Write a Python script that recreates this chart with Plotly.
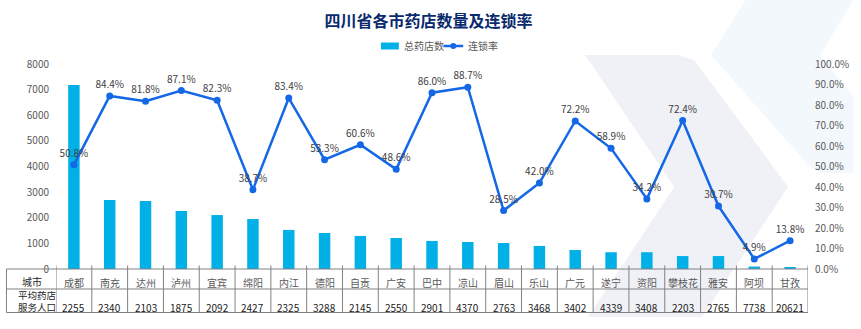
import plotly.graph_objects as go

# ---- data -------------------------------------------------------------
cities = ["成都", "南充", "达州", "泸州", "宜宾", "绵阳", "内江", "德阳", "自贡", "广安",
          "巴中", "凉山", "眉山", "乐山", "广元", "遂宁", "资阳", "攀枝花", "雅安", "阿坝", "甘孜"]
store_counts = [7180, 2695, 2655, 2265, 2105, 1950, 1525, 1405, 1290, 1210,
                1095, 1055, 1015, 900, 740, 655, 655, 505, 505, 95, 45]
chain_rate = [0.508, 0.844, 0.818, 0.871, 0.823, 0.387, 0.834, 0.533, 0.606, 0.486,
              0.860, 0.887, 0.285, 0.420, 0.722, 0.589, 0.342, 0.724, 0.307, 0.049, 0.138]
people_per_store = [2255, 2340, 2103, 1875, 2092, 2427, 2325, 3288, 2145, 2550,
                    2901, 4370, 2763, 3468, 3402, 4339, 3408, 2203, 2765, 7738, 20621]

# ---- layout geometry (pixels) ----------------------------------------
FIG_W, FIG_H = 861, 329
L, R, T, B = 56, 815, 64, 269
W, H = R - L, B - T

FONT = "Noto Sans CJK SC"
BAR_COLOR = "#00b0e6"
LINE_COLOR = "#1468e6"
GRID = "#808080"


def px(x):
    return (x - L) / W


def py(y):
    return (B - y) / H


def path(points):
    return "M " + " L ".join(f"{px(x):.5f},{py(y):.5f}" for x, y in points) + " Z"


fig = go.Figure()

fig.add_trace(go.Bar(
    x=cities, y=store_counts, name="总药店数",
    marker=dict(color=BAR_COLOR, line=dict(width=0)),
    yaxis="y", showlegend=False,
))

fig.add_trace(go.Scatter(
    x=cities, y=chain_rate, name="连锁率", yaxis="y2",
    mode="lines+markers+text",
    line=dict(color=LINE_COLOR, width=2.5),
    marker=dict(color=LINE_COLOR, size=7),
    texttemplate="%{y:.1%}", textposition="top center",
    textfont=dict(family=FONT, size=10, color="#404040"),
    cliponaxis=False, showlegend=False,
))

shapes = []

# decorative background chevrons
shapes.append(dict(type="path", xref="paper", yref="paper", layer="below",
                   path=path([(590, 55), (683, 55), (700, 60), (795, 187),
                              (708, 317), (593, 317), (680, 187)]),
                   fillcolor="#eff1f6", line=dict(width=0)))
shapes.append(dict(type="path", xref="paper", yref="paper", layer="below",
                   path=path([(752, 0), (861, 0), (861, 0), (827, 55), (861, 97),
                              (861, 173), (830, 173), (818, 168), (717, 55)]),
                   fillcolor="#f3f8fc", line=dict(width=0)))

# data table grid under the category axis
for yy in (269, 289, 312.5):
    shapes.append(dict(type="line", xref="paper", yref="paper",
                       x0=px(6), x1=1, y0=py(yy), y1=py(yy),
                       line=dict(color=GRID, width=1)))
shapes.append(dict(type="line", xref="paper", yref="paper",
                   x0=px(6), x1=px(6), y0=py(269), y1=py(312.5),
                   line=dict(color=GRID, width=1)))
for k in range(len(cities) + 1):
    shapes.append(dict(type="line", xref="x", yref="paper",
                       x0=k - 0.5, x1=k - 0.5, y0=py(265.5), y1=py(312.5),
                       line=dict(color=GRID, width=1)))

# legend swatches
shapes.append(dict(type="rect", xref="paper", yref="paper",
                   x0=px(384), x1=px(402), y0=py(49.5), y1=py(42.5),
                   fillcolor=BAR_COLOR, line=dict(width=0)))
shapes.append(dict(type="line", xref="paper", yref="paper",
                   x0=px(447), x1=px(467), y0=py(46), y1=py(46),
                   line=dict(color=LINE_COLOR, width=2.5)))
shapes.append(dict(type="circle", xref="paper", yref="paper",
                   x0=px(454), x1=px(460), y0=py(49), y1=py(43),
                   fillcolor=LINE_COLOR, line=dict(width=0)))

annotations = []
for i, (c, n) in enumerate(zip(cities, people_per_store)):
    annotations.append(dict(x=c, xref="x", y=py(282), yref="paper", text=c,
                            showarrow=False, xanchor="center", yanchor="middle",
                            font=dict(family=FONT, size=10, color="#595959")))
    annotations.append(dict(x=c, xref="x", y=py(307), yref="paper", text=str(n),
                            showarrow=False, xanchor="center", yanchor="middle",
                            font=dict(family=FONT, size=10, color="#1a1a1a")))

# row headers of the table
annotations.append(dict(x=px(31.5), xref="paper", y=py(281.5), yref="paper", text="城市",
                        showarrow=False, xanchor="center", yanchor="middle",
                        font=dict(family=FONT, size=10, color="#262626")))
annotations.append(dict(x=px(37), xref="paper", y=py(301), yref="paper",
                        text="平均药店<br>服务人口",
                        showarrow=False, xanchor="center", yanchor="middle",
                        font=dict(family=FONT, size=9.5, color="#262626")))

# legend labels
annotations.append(dict(x=px(405), xref="paper", y=py(46), yref="paper", text="总药店数",
                        showarrow=False, xanchor="left", yanchor="middle",
                        font=dict(family=FONT, size=10, color="#595959")))
annotations.append(dict(x=px(470), xref="paper", y=py(46), yref="paper", text="连锁率",
                        showarrow=False, xanchor="left", yanchor="middle",
                        font=dict(family=FONT, size=10, color="#595959")))

fig.update_layout(
    width=FIG_W, height=FIG_H,
    margin=dict(l=L, r=FIG_W - R, t=T, b=FIG_H - B, pad=0),
    paper_bgcolor="white", plot_bgcolor="rgba(0,0,0,0)",
    title=dict(text="<b>四川省各市药店数量及连锁率</b>",
               x=428.5 / FIG_W, xref="container", xanchor="center",
               y=1 - 21 / FIG_H, yref="container", yanchor="middle",
               font=dict(family=FONT, size=16, color="#0a2a6e")),
    font=dict(family=FONT, size=10, color="#595959"),
    bargap=0.68,
    showlegend=False,
    xaxis=dict(type="category", range=[-0.5, len(cities) - 0.5],
               showticklabels=False, showgrid=False, zeroline=False,
               showline=False, ticks=""),
    yaxis=dict(range=[0, 8000], dtick=1000, showgrid=False, zeroline=False,
               showline=False, ticks="", ticklabelstandoff=6,
               tickfont=dict(family=FONT, size=10, color="#595959")),
    yaxis2=dict(range=[0, 1], dtick=0.1, tickformat=".1%", overlaying="y",
                side="right", showgrid=False, zeroline=False, showline=False,
                ticks="", ticklabelstandoff=6,
                tickfont=dict(family=FONT, size=10, color="#595959")),
    shapes=shapes,
    annotations=annotations,
)

fig.write_html("out.html")
